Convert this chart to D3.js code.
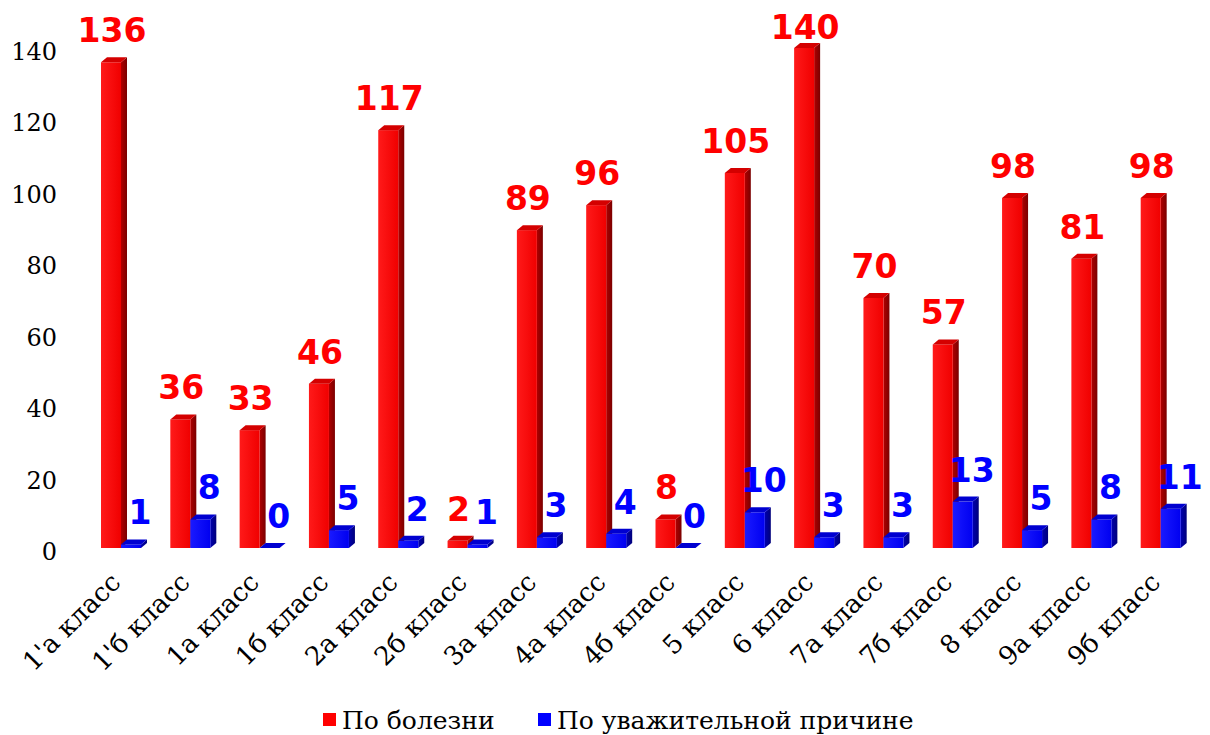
<!DOCTYPE html>
<html>
<head>
<meta charset="utf-8">
<script src="https://cdn.jsdelivr.net/npm/d3@7"></script>
<style>
  body { margin: 0; background: #fff; }
  svg { display: block; }
</style>
</head>
<body>
<svg id="chart" width="1210" height="735"></svg>
<script>
// data
const classes = ["1'а класс", "1'б класс", "1а класс", "1б класс", "2а класс", "2б класс",
  "3а класс", "4а класс", "4б класс", "5 класс", "6 класс", "7а класс", "7б класс",
  "8 класс", "9а класс", "9б класс"];
const illness = [136, 36, 33, 46, 117, 2, 89, 96, 8, 105, 140, 70, 57, 98, 81, 98];
const goodReason = [1, 8, 0, 5, 2, 1, 3, 4, 0, 10, 3, 3, 13, 5, 8, 11];
const yTicks = [0, 20, 40, 60, 80, 100, 120, 140];
const seriesNames = ["По болезни", "По уважительной причине"];

const svg = d3.select("#chart");
const serif = "'DejaVu Serif', serif";
const boldSans = "'DejaVu Sans', Verdana, sans-serif";

// scales
const x = d3.scaleBand().domain(classes).range([86, 1195]).padding(0);
const y = d3.scaleLinear().domain([0, 140]).range([548, 48]);

const barW = 20, dx = 6, dy = 5;

// gradients for the faces
const defs = svg.append("defs");
function grad(id, c1, c2) {
  const g = defs.append("linearGradient").attr("id", id)
    .attr("x1", 0).attr("x2", 1).attr("y1", 0).attr("y2", 0);
  g.append("stop").attr("offset", "0%").attr("stop-color", c1);
  g.append("stop").attr("offset", "100%").attr("stop-color", c2);
}
grad("redFront", "#ff1a1a", "#f00000");
grad("redSide", "#b00000", "#7a0000");
grad("blueFront", "#1a1aff", "#0000f0");
grad("blueSide", "#0000b0", "#00007a");

const series = [
  { name: seriesNames[0], values: illness, off: 15, front: "url(#redFront)", side: "url(#redSide)", top: "#d40000", color: "#ff0000" },
  { name: seriesNames[1], values: goodReason, off: 15 + barW, front: "url(#blueFront)", side: "url(#blueSide)", top: "#0000d0", color: "#0000ff" }
];

// y axis labels (no axis line)
svg.append("g")
  .selectAll("text")
  .data(yTicks)
  .enter()
  .append("text")
    .attr("x", 57)
    .attr("y", d => y(d) + 4)
    .attr("text-anchor", "end")
    .attr("dominant-baseline", "central")
    .style("font-family", serif)
    .style("font-size", "24px")
    .style("fill", "#000")
    .text(d => d);

// bars
const y0 = y(0);
series.forEach(function(s) {
  const g = svg.append("g");
  const data = classes.map((c, i) => ({ c: c, v: s.values[i] }));

  // side face
  g.selectAll(".side").data(data).enter().append("polygon")
    .attr("points", function(d) {
      const x1 = x(d.c) + s.off + barW, yt = y(d.v);
      return [[x1, yt], [x1 + dx, yt - dy], [x1 + dx, y0 - dy], [x1, y0]].join(" ");
    })
    .attr("fill", s.side);

  // front face
  g.selectAll(".front").data(data).enter().append("rect")
    .attr("x", d => x(d.c) + s.off)
    .attr("y", d => y(d.v))
    .attr("width", barW)
    .attr("height", d => y0 - y(d.v))
    .attr("fill", s.front);

  // top face
  g.selectAll(".top").data(data).enter().append("polygon")
    .attr("points", function(d) {
      const x1 = x(d.c) + s.off, yt = y(d.v);
      return [[x1, yt], [x1 + dx, yt - dy], [x1 + barW + dx, yt - dy], [x1 + barW, yt]].join(" ");
    })
    .attr("fill", s.top);
});

// value labels (kept inside the top edge)
series.forEach(function(s, k) {
  svg.append("g").selectAll("text")
    .data(classes.map((c, i) => ({ c: c, v: s.values[i] })))
    .enter()
    .append("text")
      .attr("x", d => x(d.c) + s.off + barW / 2 + (k === 0 ? 1 : 9))
      .attr("y", d => Math.max(y(d.v) - 20, 39))
      .attr("text-anchor", "middle")
      .style("font-family", boldSans)
      .style("font-weight", "bold")
      .style("font-size", "33px")
      .style("fill", s.color)
      .text(d => d.v);
});

// category labels
svg.append("g").selectAll("text")
  .data(classes)
  .enter()
  .append("text")
    .attr("transform", d => `translate(${x(d) + 36},584) rotate(-45)`)
    .attr("text-anchor", "end")
    .style("font-family", serif)
    .style("font-size", "26px")
    .style("fill", "#000")
    .text(d => d);

// legend
const legend = svg.append("g");
const legendX = [323, 538];
series.forEach(function(s, i) {
  legend.append("rect")
    .attr("x", legendX[i]).attr("y", 713)
    .attr("width", 13).attr("height", 13)
    .attr("fill", s.color);
  legend.append("text")
    .attr("x", legendX[i] + 19).attr("y", 729)
    .style("font-family", serif)
    .style("font-size", "25px")
    .style("fill", "#000")
    .text(s.name);
});
</script>
</body>
</html>
